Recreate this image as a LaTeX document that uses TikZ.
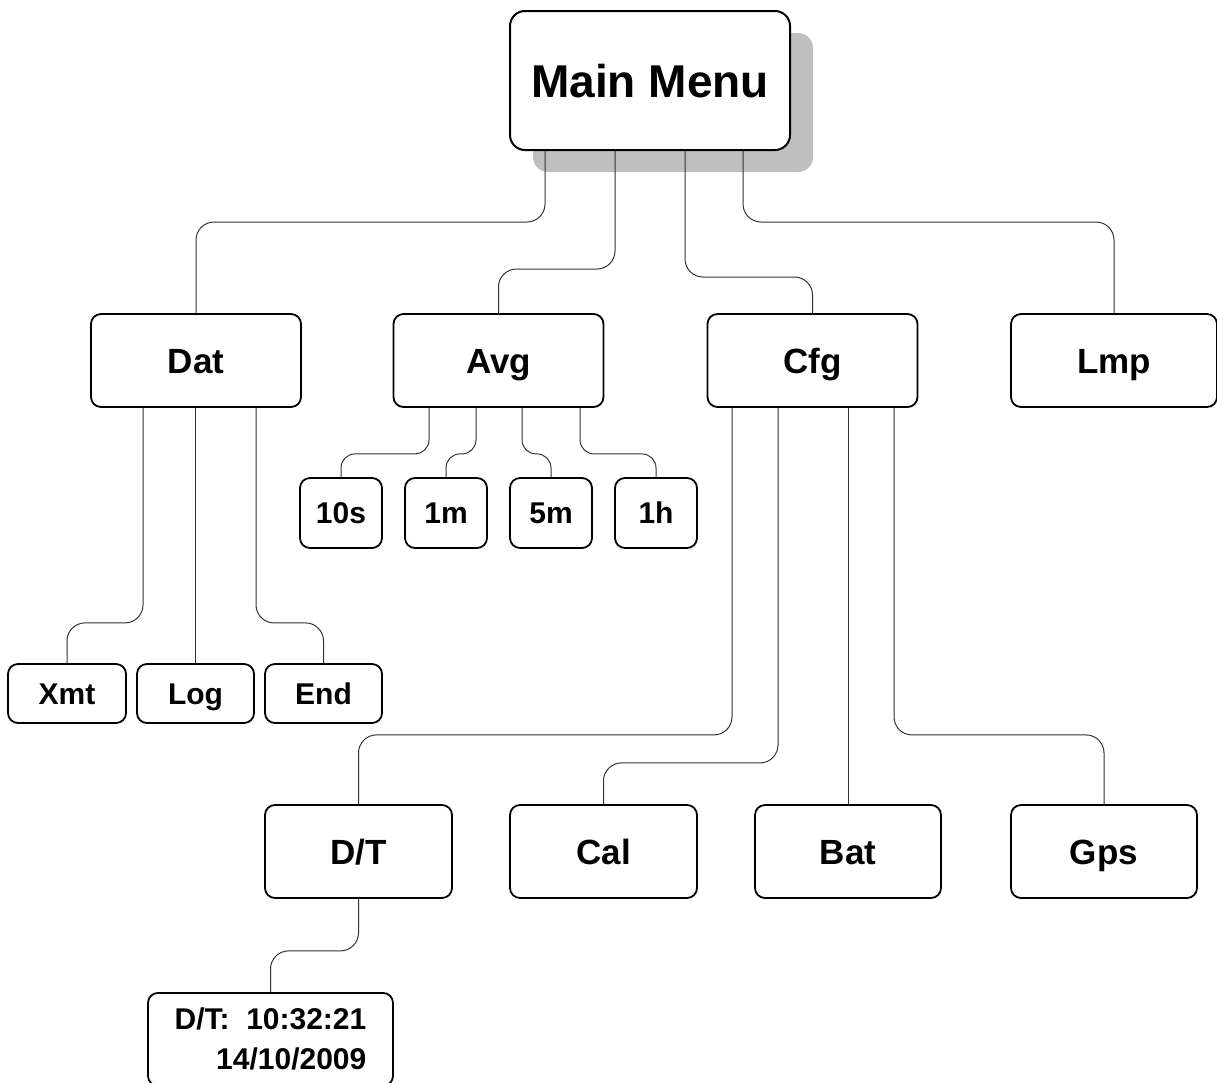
\documentclass[tikz,border=0pt]{standalone}
\usepackage{fontspec}
\setmainfont{Liberation Sans}
\usetikzlibrary{shadows}
\tikzset{
  box/.style={draw, line width=1.8pt, rounded corners=10pt, inner sep=0pt, fill=white},
  topbox/.style={box, rounded corners=15pt, line width=2pt, minimum width=280pt, minimum height=139pt,
    font=\fontsize{46}{50}\selectfont\bfseries, text height=33pt, text depth=0pt,
    drop shadow={shadow xshift=23pt, shadow yshift=-22pt, opacity=1, fill=black!25}},
  subbox/.style={box, minimum width=210pt, minimum height=93pt,
    font=\fontsize{35}{40}\selectfont\bfseries, text height=25pt, text depth=0pt},
  optbox/.style={box, minimum width=82pt, minimum height=70pt,
    font=\fontsize{30}{40}\selectfont\bfseries, text height=21.5pt, text depth=0pt},
  link/.style={draw=black!80, line width=1pt, rounded corners=18pt},
  shortlink/.style={link, rounded corners=14pt}
}
\begin{document}
\begin{tikzpicture}[x=1pt, y=-1pt]
  \clip (0,0) rectangle (1217,1082);

  \node[topbox] (mm) at (650,80.5) {Main Menu};

  \node[subbox] (dat) at (196,360.5) {Dat};
  \node[subbox] (avg) at (498.5,360.5) {Avg};
  \node[subbox] (cfg) at (812.5,360.5) {Cfg};
  \node[subbox, minimum width=206pt] (lmp) at (1114,360.5) {Lmp};

  \node[optbox] (s10) at (341,513) {10s};
  \node[optbox] (m1) at (446,513) {1m};
  \node[optbox] (m5) at (551,513) {5m};
  \node[optbox] (h1) at (656,513) {1h};

  \node[optbox, minimum width=118pt, minimum height=59pt] (xmt) at (67,693.5) {Xmt};
  \node[optbox, minimum width=117pt, minimum height=59pt] (log) at (195.5,693.5) {Log};
  \node[optbox, minimum width=117pt, minimum height=59pt] (end) at (323.5,693.5) {End};

  \node[subbox, minimum width=187pt] (dt) at (358.5,851.5) {D/T};
  \node[subbox, minimum width=187pt] (cal) at (603.5,851.5) {Cal};
  \node[subbox, minimum width=186pt] (bat) at (848,851.5) {Bat};
  \node[subbox, minimum width=186pt] (gps) at (1104,851.5) {Gps};

  \node[box, anchor=north, minimum width=245pt, minimum height=93pt, align=right,
    font=\fontsize{30}{40}\selectfont\bfseries] (clock) at (270.5,992) {D/T:\ \ 10:32:21\\14/10/2009};

  \draw[link] ([xshift=-105pt]mm.south) -- ++(0,71) -| (dat.north);
  \draw[link] ([xshift=-35pt]mm.south) -- ++(0,118) -| (avg.north);
  \draw[link] ([xshift=35pt]mm.south) -- ++(0,126) -| (cfg.north);
  \draw[link] ([xshift=93pt]mm.south) -- ++(0,71) -| (lmp.north);

  \draw[shortlink] ([xshift=-69.5pt]avg.south) -- ++(0,46) -| (s10.north);
  \draw[shortlink] ([xshift=-22.5pt]avg.south) -- ++(0,46) -| (m1.north);
  \draw[shortlink] ([xshift=23.5pt]avg.south) -- ++(0,46) -| (m5.north);
  \draw[shortlink] ([xshift=81.5pt]avg.south) -- ++(0,46) -| (h1.north);

  \draw[link] ([xshift=-53pt]dat.south) -- ++(0,215) -| (xmt.north);
  \draw[link] (log.north |- dat.south) -- (log.north);
  \draw[link] ([xshift=60pt]dat.south) -- ++(0,215) -| (end.north);

  \draw[link] ([xshift=-80.5pt]cfg.south) -- ++(0,327) -| (dt.north);
  \draw[link] ([xshift=-34.5pt]cfg.south) -- ++(0,355) -| (cal.north);
  \draw[link] (bat.north |- cfg.south) -- (bat.north);
  \draw[link] ([xshift=81.5pt]cfg.south) -- ++(0,327) -| (gps.north);

  \draw[link] (dt.south) -- ++(0,52) -| (clock.north);
\end{tikzpicture}
\end{document}
